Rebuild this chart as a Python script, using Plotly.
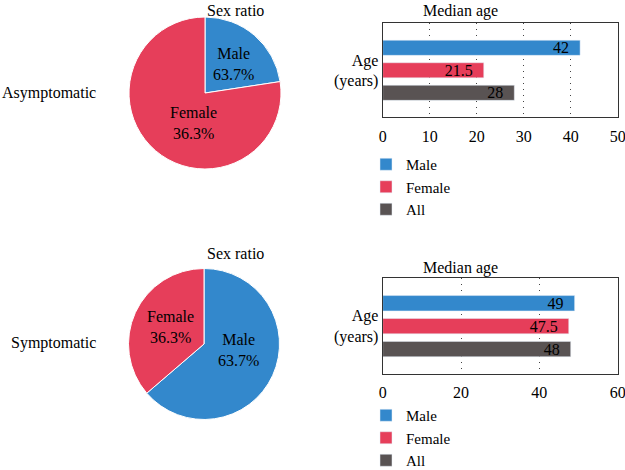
import plotly.graph_objects as go

W, H = 625, 470
FONT = "Liberation Serif"

# ---- data ----
sex_labels = ["Male", "Female"]
pie_asym_values = [22.6, 77.4]          # slice sizes as drawn
pie_asym_text = ["63.7%", "36.3%"]      # printed labels
pie_sym_values = [63.7, 36.3]
pie_sym_text = ["63.7%", "36.3%"]

age_groups = ["Male", "Female", "All"]
age_asym = [42, 21.5, 28]
age_sym = [49, 47.5, 48]
age_category = ["Age<br>(years)"]

colors = {"Male": "#3388CC", "Female": "#E63E5A", "All": "#595353"}


def px_x(p):
    return p / W


def px_y(p):
    return 1 - p / H


fig = go.Figure()
annotations = []

# ---- pies ----
pie_specs = [
    (pie_asym_values, pie_asym_text, (205, 93, 76), [(233, 64), (193, 123)]),
    (pie_sym_values, pie_sym_text, (204, 344, 75.5), [(238, 350), (170, 327)]),
]
for vals, txt, (cx, cy, r), label_pos in pie_specs:
    fig.add_trace(go.Pie(
        labels=sex_labels,
        values=vals,
        textinfo="none",
        marker=dict(colors=[colors[l] for l in sex_labels], line=dict(color="white", width=1)),
        sort=False,
        direction="clockwise",
        rotation=0,
        showlegend=False,
        hoverinfo="label+value",
        domain=dict(x=[px_x(cx - r), px_x(cx + r)], y=[px_y(cy + r), px_y(cy - r)]),
    ))
    for l, t, (lx, ly) in zip(sex_labels, txt, label_pos):
        annotations.append(dict(text=f"{l}<br>{t}", x=px_x(lx), y=px_y(ly),
                                xref="paper", yref="paper", xanchor="center", yanchor="middle",
                                showarrow=False, font=dict(size=16, color="black")))

# ---- bars ----
for vals, xa, ya, leg in [
    (age_asym, "x", "y", "legend"),
    (age_sym, "x2", "y2", "legend2"),
]:
    for g, v in zip(age_groups, vals):
        fig.add_trace(go.Bar(
            y=age_category,
            x=[v],
            name=g,
            orientation="h",
            marker=dict(color=colors[g]),
            text=[f"{v:g}\u00a0\u00a0"],
            textposition="inside",
            insidetextanchor="end",
            textangle=0,
            constraintext="none",
            textfont=dict(family=FONT, size=16, color="black"),
            xaxis=xa,
            yaxis=ya,
            legend=leg,
        ))

axis_common = dict(
    showline=True, mirror=True, linecolor="#333333", linewidth=1.2, automargin=False,
    tickfont=dict(family=FONT, size=16, color="black"),
)
xaxis_common = dict(
    showgrid=True, gridcolor="#444444", gridwidth=1, griddash="1px,5px",
    zeroline=False, ticks="outside", ticklen=4, tickcolor="rgba(0,0,0,0)",
    ticklabeloverflow="allow", **axis_common,
)

annotations += [
    dict(text="Sex ratio", x=px_x(205), y=px_y(0), xref="paper", yref="paper",
         yanchor="top", showarrow=False, font=dict(size=16)),
    dict(text="Sex ratio", x=px_x(205), y=px_y(253), xref="paper", yref="paper",
         yanchor="middle", showarrow=False, font=dict(size=16)),
    dict(text="Median age", x=px_x(500), y=px_y(11), xref="paper", yref="paper",
         yanchor="middle", showarrow=False, font=dict(size=16)),
    dict(text="Median age", x=px_x(500), y=px_y(268), xref="paper", yref="paper",
         yanchor="middle", showarrow=False, font=dict(size=16)),
    dict(text="Asymptomatic", x=px_x(98), y=px_y(93), xref="paper", yref="paper",
         xanchor="right", yanchor="middle", showarrow=False, font=dict(size=16)),
    dict(text="Symptomatic", x=px_x(98), y=px_y(343), xref="paper", yref="paper",
         xanchor="right", yanchor="middle", showarrow=False, font=dict(size=16)),
]

fig.update_layout(
    width=W, height=H,
    margin=dict(l=0, r=0, t=0, b=0, autoexpand=False),
    paper_bgcolor="white",
    plot_bgcolor="white",
    font=dict(family=FONT, size=16, color="black"),
    barmode="group",
    bargap=0.2,
    bargroupgap=0.33,
    xaxis=dict(domain=[px_x(382.7), px_x(617.7)], anchor="y", range=[0, 50], dtick=10,
               **xaxis_common),
    yaxis=dict(domain=[px_y(117.3), px_y(23.3)], anchor="x", range=[0.557, -0.557],
               showgrid=False, zeroline=False, ticks="", **axis_common),
    xaxis2=dict(domain=[px_x(382.7), px_x(617.7)], anchor="y2", range=[0, 60], dtick=20,
                **xaxis_common),
    yaxis2=dict(domain=[px_y(374), px_y(278.3)], anchor="x2", range=[0.557, -0.557],
                showgrid=False, zeroline=False, ticks="", **axis_common),
    legend=dict(x=px_x(366), xanchor="left", y=px_y(148), yanchor="top", tracegroupgap=0,
                font=dict(family=FONT, size=15, color="black"), bgcolor="rgba(0,0,0,0)"),
    legend2=dict(x=px_x(366), xanchor="left", y=px_y(399), yanchor="top", tracegroupgap=0,
                 font=dict(family=FONT, size=15, color="black"), bgcolor="rgba(0,0,0,0)"),
    annotations=annotations,
)

fig.write_html("out.html", config={"displayModeBar": False},
               post_script="document.body.style.margin='0';")
